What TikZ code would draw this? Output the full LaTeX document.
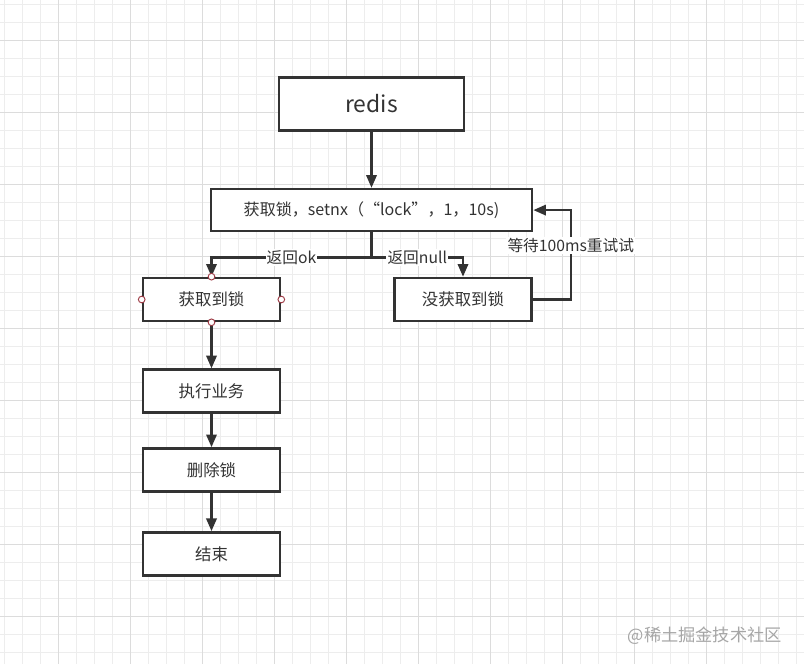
\documentclass[tikz,border=0pt]{standalone}
\usepackage{fontspec}
\setmainfont{Noto Sans CJK SC}
\usetikzlibrary{arrows.meta,positioning,calc}
\definecolor{ink}{HTML}{333333}
\definecolor{gridlight}{HTML}{EDEDED}
\definecolor{griddark}{HTML}{DCDCDC}
\definecolor{portred}{HTML}{9E3B45}
\definecolor{mark}{HTML}{A6A6A6}
\tikzset{
  box/.style={
    rectangle, draw=ink, line width=2.2pt,
    fill=white, text=ink,
    font=\fontsize{14}{17}\selectfont,
    minimum width=4.11cm, minimum height=1.29cm,
    inner sep=2pt, align=center
  },
  arr/.style={-{Triangle[length=3.8mm,width=3.1mm]}, draw=ink, line width=2pt},
  lbl/.style={fill=white, text=ink, font=\fontsize{13.4}{16}\selectfont, inner sep=1pt},
  port/.style={draw=portred, fill=white, line width=0.8pt},
}
\begin{document}
\begin{tikzpicture}[x=0.03cm, y=-0.03cm]

  \useasboundingbox (0,0) rectangle (804,664);
  \fill[white] (0,0) rectangle (804,664);

  % grid
  \foreach \i in {0,...,44}
    \draw[gridlight, line width=0.6pt] (4.7+18*\i,0) -- (4.7+18*\i,664);
  \foreach \i in {0,...,36}
    \draw[gridlight, line width=0.6pt] (0,4.7+18*\i) -- (804,4.7+18*\i);
  \foreach \i in {0,...,10}
    \draw[griddark, line width=0.6pt] (58.7+72*\i-72,0) -- (58.7+72*\i-72,664);
  \foreach \i in {0,...,9}
    \draw[griddark, line width=0.6pt] (0,40.7+72*\i) -- (804,40.7+72*\i);

  \node[box, minimum width=5.55cm, minimum height=1.59cm,
        font=\fontsize{19.5}{23}\selectfont]
    (redis) at (371.5,104) {redis};

  \node[box, minimum width=9.63cm, minimum height=1.26cm, below=1.68cm of redis,
        font=\fontsize{13.7}{16}\selectfont]
    (acquire) {获取锁，setnx（“lock”，1，10s)};

  \node[box] (gotlock) at (211.5,299.5) {获取到锁};
  \node[box] (nolock) at (463,299.5) {没获取到锁};

  \node[box, below=1.38cm of gotlock] (work) {执行业务};
  \node[box, below=1.0cm of work] (unlock) {删除锁};
  \node[box, below=1.15cm of unlock] (finish) {结束};

  \coordinate (split) at ($(acquire.south)+(0,25)$);

  % Arrows
  \draw[arr] (redis.south) -- (acquire.north);
  \draw[arr] (acquire.south) -- (split) -| node[lbl, pos=0.25]{返回ok} (gotlock.north);
  \draw[arr] (split) -| node[lbl, pos=0.25]{返回null} (nolock.north);
  \draw[arr] (nolock.east) -- ++(38,0) |- node[lbl, pos=0.3]{等待100ms重试试} (acquire.east);
  \draw[arr] (gotlock.south) -- (work.north);
  \draw[arr] (work.south) -- (unlock.north);
  \draw[arr] (unlock.south) -- (finish.north);

  \foreach \a in {north,south,east,west}
    \draw[port] (gotlock.\a) circle[radius=0.1cm];

  \node[text=mark, font=\fontsize{14.7}{17}\selectfont, anchor=east]
    (watermark) at (786,636) {@稀土掘金技术社区};

\end{tikzpicture}
\end{document}
